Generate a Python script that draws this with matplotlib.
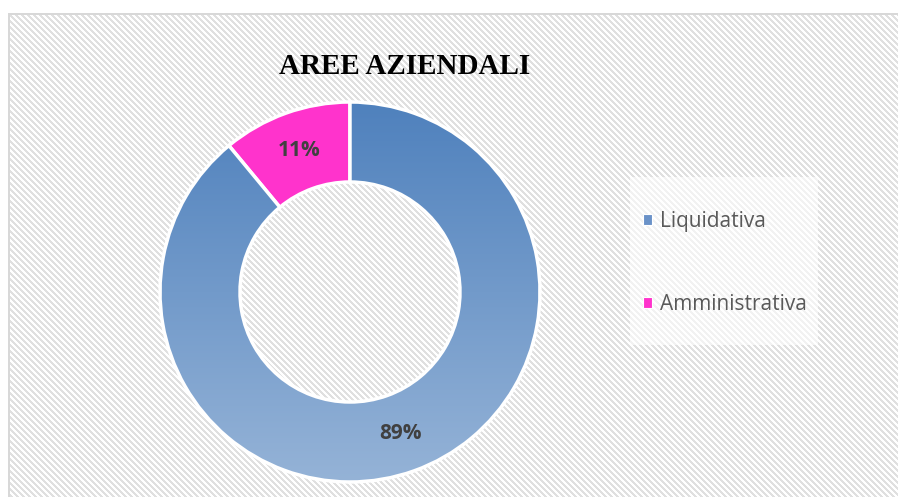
import numpy as np
import matplotlib
matplotlib.use("Agg")
import matplotlib.pyplot as plt
from matplotlib.patches import Rectangle, Patch
from matplotlib.colors import LinearSegmentedColormap

# ---- data ----
categories = ["Liquidativa", "Amministrativa"]
values = [89, 11]
title = "AREE AZIENDALI"

W, H = 898, 497
DPI = 100
fig = plt.figure(figsize=(W / DPI, H / DPI), dpi=DPI)

# ---- background: white margin + hatched chart area ----
bg = fig.add_axes([0, 0, 1, 1])
yy, xx = np.mgrid[0:H, 0:W]
img = np.ones((H, W, 3))
stripe = ((xx - yy) % 6) < 3
inside = (xx >= 9) & (yy >= 14)
gray = np.array([0.88, 0.88, 0.88])
img[stripe & inside] = gray
border = ((xx == 8) | (xx == 9)) & (yy >= 13) | ((yy == 13) | (yy == 14)) & (xx >= 8)
img[border] = np.array([0.85, 0.85, 0.85])
bg.imshow(img, extent=[0, W, H, 0], interpolation="nearest", aspect="auto")
bg.set_xlim(0, W)
bg.set_ylim(H, 0)
bg.axis("off")

# legend box (semi-transparent white)
lx0, ly0, lx1, ly1 = 630, 177, 818, 345
bg.add_patch(Rectangle((lx0, ly0), lx1 - lx0, ly1 - ly0,
                       facecolor="white", alpha=0.6, edgecolor="none"))

# ---- donut ----
cx, cy, R = 350, 292, 190
half = 200
ax = fig.add_axes([(cx - half) / W, (H - cy - half) / H, 2 * half / W, 2 * half / H])

blue_top = "#4f81bd"
blue_bot = "#95b3d7"
pink = "#ff33cc"
ring = 80

wedges, texts, autotexts = ax.pie(
    values, radius=R, startangle=90, counterclock=False,
    colors=[blue_top, pink],
    autopct=lambda p: f"{p:.0f}%", pctdistance=(R - ring / 2) / R,
    wedgeprops=dict(width=ring, edgecolor="white", linewidth=2.5),
    textprops=dict(fontsize=15, fontweight="bold", color="#404040", family="Open Sans"),
    frame=True,
)
ax.set_xlim(-half, half)
ax.set_ylim(-half, half)
ax.set_aspect("equal")
ax.axis("off")

# gradient fill for the blue wedge
cmap = LinearSegmentedColormap.from_list("g", [blue_bot, blue_top])
grad = np.linspace(0, 1, 256).reshape(-1, 1)
gim = ax.imshow(grad, cmap=cmap, extent=[-R, R, -R, R], origin="lower",
                aspect="auto", zorder=wedges[0].get_zorder() + 0.1)
gim.set_clip_path(wedges[0])
wedges[0].set_zorder(wedges[0].get_zorder() + 0.2)
wedges[0].set_facecolor("none")
for t in autotexts:
    t.set_zorder(10)

# ---- title ----
fig.text(405 / W, 1 - 67 / H, title, ha="center", va="center",
         fontsize=21, fontweight="bold", family="Liberation Serif", color="#000000")

# ---- legend ----
handles = [Patch(facecolor="#6a92c8", edgecolor="white", linewidth=0.8),
           Patch(facecolor=pink, edgecolor="white", linewidth=0.8)]
leg = fig.legend(handles, categories, loc="upper left",
                 bbox_to_anchor=(643 / W, 1 - 211 / H),
                 frameon=False, prop=dict(family="Open Sans", size=15),
                 labelcolor="#595959", handlelength=0.42, handleheight=0.42,
                 handletextpad=0.42, labelspacing=2.97, borderpad=0, borderaxespad=0)

fig.savefig("out.png", dpi=DPI)
